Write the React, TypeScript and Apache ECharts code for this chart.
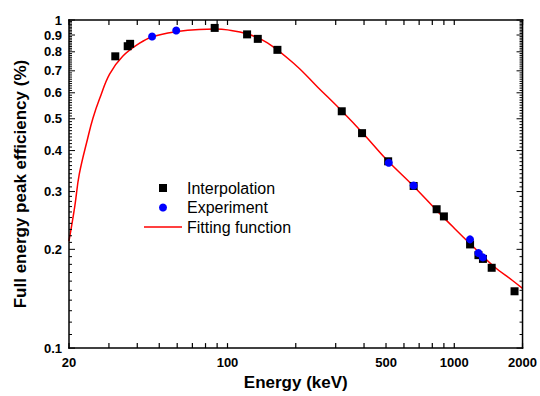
import React, { useEffect, useRef } from "react";
import * as echarts from "echarts";

// Values (energy in keV, efficiency in %)
const interpEnergy = [32, 36.3, 37.2, 87.8, 122, 136, 166, 319, 392, 511, 662, 836, 900, 1174, 1278, 1338, 1462, 1844];
const interpEff = [0.775, 0.832, 0.846, 0.946, 0.904, 0.876, 0.811, 0.527, 0.452, 0.371, 0.312, 0.265, 0.252, 0.207, 0.192, 0.187, 0.1757, 0.149];

const expEnergy = [46.5, 59.4, 514, 662, 1173, 1278, 1336];
const expEff = [0.891, 0.929, 0.367, 0.313, 0.2145, 0.195, 0.189];

const fitEnergy = [20, 21.2, 22.2, 24.2, 25.5, 27.3, 30.2, 34.5, 40.8, 46.7, 60, 75, 88, 100, 122, 150, 200, 250, 320, 400, 500, 660, 840, 1000, 1200, 1500, 1800, 2000];
const fitEff = [0.212, 0.27, 0.339, 0.437, 0.502, 0.576, 0.684, 0.775, 0.848, 0.889, 0.922, 0.936, 0.938, 0.933, 0.908, 0.852, 0.728, 0.624, 0.527, 0.448, 0.377, 0.312, 0.262, 0.232, 0.205, 0.177, 0.161, 0.152];

const xRange = [20, 2000];
const yRange = [0.1, 1];
const xTickValues = [20, 30, 40, 50, 60, 70, 80, 90, 100, 200, 300, 400, 500, 600, 700, 800, 900, 1000, 2000];
const xLabelValues = [20, 100, 500, 1000, 2000];
const yMajorValues = [0.1, 0.2, 0.3, 0.4, 0.5, 0.6, 0.7, 0.8, 0.9, 1];
const yMinorValues = [
  0.1, 0.11, 0.12, 0.13, 0.14, 0.15, 0.16, 0.17, 0.18, 0.19,
  0.2, 0.21, 0.22, 0.23, 0.24, 0.25, 0.26, 0.27, 0.28, 0.29,
  0.3, 0.31, 0.32, 0.33, 0.34, 0.35, 0.36, 0.37, 0.38, 0.39,
  0.4, 0.41, 0.42, 0.43, 0.44, 0.45, 0.46, 0.47, 0.48, 0.49,
  0.5, 0.51, 0.52, 0.53, 0.54, 0.55, 0.56, 0.57, 0.58, 0.59,
  0.6, 0.61, 0.62, 0.63, 0.64, 0.65, 0.66, 0.67, 0.68, 0.69,
  0.7, 0.71, 0.72, 0.73, 0.74, 0.75, 0.76, 0.77, 0.78, 0.79,
  0.8, 0.81, 0.82, 0.83, 0.84, 0.85, 0.86, 0.87, 0.88, 0.89,
  0.9, 0.91, 0.92, 0.93, 0.94, 0.95, 0.96, 0.97, 0.98, 0.99, 1,
];

const FONT = "'Liberation Sans', Arial, sans-serif";

export default function App() {
  const ref = useRef<HTMLDivElement>(null);
  useEffect(() => {
    if (!ref.current) return;
    const chart = echarts.init(ref.current, null, { renderer: "svg" });
    const isMajorY = (v: number) => yMajorValues.some((m) => Math.abs(m - v) < 1e-6);
    const INK = { fill: "#000" };

    // ticks drawn as thin filled rectangles on all four sides
    const xTickItem = (params: any, api: any) => {
      const v = api.value(0);
      const b = api.coord([v, yRange[0]]);
      const t = api.coord([v, yRange[1]]);
      const w = 1.2;
      const len = 5;
      return {
        type: "group",
        children: [
          { type: "rect", shape: { x: b[0] - w / 2, y: b[1] - len, width: w, height: len }, style: INK },
          { type: "rect", shape: { x: t[0] - w / 2, y: t[1], width: w, height: len }, style: INK },
        ],
      };
    };
    const yTickItem = (params: any, api: any) => {
      const v = api.value(1);
      const l = api.coord([xRange[0], v]);
      const r = api.coord([xRange[1], v]);
      const h = 1;
      const len = isMajorY(v) ? 6 : 3;
      return {
        type: "group",
        children: [
          { type: "rect", shape: { x: l[0], y: l[1] - h / 2, width: len, height: h }, style: INK },
          { type: "rect", shape: { x: r[0] - len, y: r[1] - h / 2, width: len, height: h }, style: INK },
        ],
      };
    };
    const frameItem = (params: any, api: any) => {
      const a = api.coord([xRange[0], yRange[0]]);
      const b = api.coord([xRange[1], yRange[1]]);
      const s = 1.5;
      const x0 = a[0] - s / 2;
      const x1 = b[0] - s / 2;
      const yb = a[1] - s / 2;
      const yt = b[1] - s / 2;
      return {
        type: "group",
        children: [
          { type: "rect", shape: { x: x0, y: yb, width: x1 - x0 + s, height: s }, style: INK },
          { type: "rect", shape: { x: x0, y: yt, width: x1 - x0 + s, height: s }, style: INK },
          { type: "rect", shape: { x: x0, y: yt, width: s, height: yb - yt + s }, style: INK },
          { type: "rect", shape: { x: x1, y: yt, width: s, height: yb - yt + s }, style: INK },
        ],
      };
    };
    const custom = (name: string, renderItem: any, data: number[][]) => ({
      name,
      type: "custom",
      renderItem,
      clip: false,
      silent: true,
      encode: { x: 0, y: 1 },
      data,
      z: 10,
    });

    chart.setOption({
      animation: false,
      backgroundColor: "#fff",
      grid: { left: 69, top: 20, right: 15, bottom: 42, containLabel: false },
      legend: {
        orient: "vertical",
        left: 139,
        top: 175,
        itemWidth: 38,
        itemHeight: 8,
        itemGap: 3.5,
        textStyle: { color: "#000", fontFamily: FONT, fontSize: 16, lineHeight: 16 },
        data: [
          { name: "Interpolation", icon: "path://M0,0h10v10h-10z" },
          { name: "Experiment", icon: "circle" },
          { name: "Fitting function", icon: "path://M0,0h38v1.5h-38z" },
        ],
      },
      xAxis: {
        type: "log",
        logBase: 10,
        min: xRange[0],
        max: xRange[1],
        position: "bottom",
        axisLine: { show: false },
        axisTick: { show: false },
        splitLine: { show: false },
        axisLabel: {
          show: true,
          customValues: xLabelValues,
          formatter: (v: number) => String(Math.round(v)),
          color: "#000",
          fontFamily: FONT,
          fontWeight: "bold",
          fontSize: 13,
          margin: 8,
        },
        name: "Energy (keV)",
        nameLocation: "middle",
        nameGap: 23,
        nameTextStyle: { color: "#000", fontFamily: FONT, fontWeight: "bold", fontSize: 17 },
      },
      yAxis: {
        type: "log",
        logBase: 10,
        min: yRange[0],
        max: yRange[1],
        position: "left",
        axisLine: { show: false },
        axisTick: { show: false },
        splitLine: { show: false },
        axisLabel: {
          show: true,
          customValues: yMajorValues,
          formatter: (v: number) => {
            const r = Math.round(v * 10) / 10;
            return r >= 1 ? "1" : r.toFixed(1);
          },
          color: "#000",
          fontFamily: FONT,
          fontWeight: "bold",
          fontSize: 13,
          margin: 7,
        },
        name: "Full energy peak efficiency (%)",
        nameLocation: "middle",
        nameGap: 40,
        nameTextStyle: { color: "#000", fontFamily: FONT, fontWeight: "bold", fontSize: 17 },
      },
      series: [
        custom("frame", frameItem, [[xRange[0], yRange[0]]]),
        custom("xTicks", xTickItem, xTickValues.map((v) => [v, yRange[0]])),
        custom("yTicks", yTickItem, yMinorValues.map((v) => [xRange[0], v])),
        {
          name: "Fitting function",
          type: "line",
          smooth: 0.4,
          symbol: "none",
          lineStyle: { color: "#ff0000", width: 1.5 },
          itemStyle: { color: "#ff0000" },
          data: fitEnergy.map((e, i) => [e, fitEff[i]]),
          z: 2,
        },
        {
          name: "Interpolation",
          type: "scatter",
          symbol: "rect",
          symbolSize: 8,
          itemStyle: { color: "#000", opacity: 1 },
          data: interpEnergy.map((e, i) => [e, interpEff[i]]),
          z: 3,
        },
        {
          name: "Experiment",
          type: "scatter",
          symbol: "circle",
          symbolSize: 8,
          itemStyle: { color: "#0000ff", opacity: 1 },
          data: expEnergy.map((e, i) => [e, expEff[i]]),
          z: 4,
        },
      ],
    });
    return () => chart.dispose();
  }, []);
  return <div ref={ref} style={{ position: "fixed", left: 0, top: 0, width: 540, height: 396 }} />;
}
